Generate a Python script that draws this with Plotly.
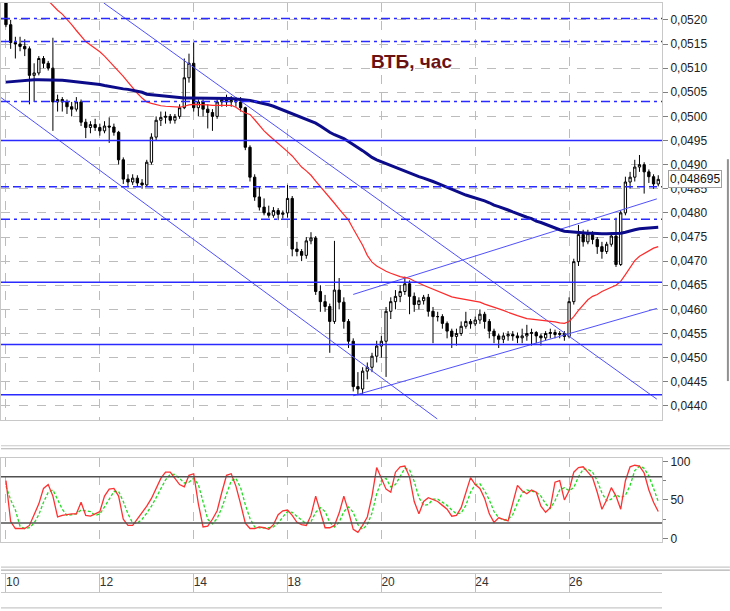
import plotly.graph_objects as go

# ---------------- data ----------------
day_labels = ['10', '12', '14', '18', '20', '24', '26']
day_pos = [0, 20, 40, 60, 80, 100, 120]

bar_index = list(range(140))

bar_open = [
    0.05240, 0.05190, 0.05153, 0.05150, 0.05145, 0.05140, 0.05085, 0.05090, 0.05120, 0.05110,
    0.05100, 0.05030, 0.05035, 0.05030, 0.05020, 0.05015, 0.05030, 0.04988, 0.04977, 0.04983,
    0.04977, 0.04970, 0.04980, 0.04978, 0.04967, 0.04910, 0.04870, 0.04864, 0.04872, 0.04862,
    0.04858, 0.04905, 0.04957, 0.04992, 0.04998, 0.05000, 0.04992, 0.05000, 0.05018, 0.05080,
    0.05110, 0.05018, 0.05030, 0.05015, 0.05008, 0.05000, 0.05030, 0.05035, 0.05030, 0.05033,
    0.05030, 0.05018, 0.04936, 0.04874, 0.04833, 0.04812, 0.04800, 0.04795, 0.04805, 0.04797,
    0.04800, 0.04830, 0.04725, 0.04720, 0.04712, 0.04742, 0.04748, 0.04637, 0.04616, 0.04606,
    0.04575, 0.04640, 0.04615, 0.04575, 0.04534, 0.04440, 0.04435, 0.04472, 0.04480, 0.04503,
    0.04524, 0.04534, 0.04596, 0.04616, 0.04627, 0.04637, 0.04653, 0.04627, 0.04610, 0.04618,
    0.04625, 0.04596, 0.04585, 0.04585, 0.04571, 0.04555, 0.04544, 0.04550, 0.04565, 0.04575,
    0.04570, 0.04578, 0.04590, 0.04575, 0.04555, 0.04545, 0.04538, 0.04545, 0.04548, 0.04545,
    0.04541, 0.04545, 0.04550, 0.04552, 0.04545, 0.04541, 0.04550, 0.04552, 0.04548, 0.04550,
    0.04544, 0.04616, 0.04699, 0.04755, 0.04740, 0.04757, 0.04745, 0.04730, 0.04720, 0.04735,
    0.04752, 0.04693, 0.04800, 0.04864, 0.04874, 0.04895, 0.04900, 0.04885, 0.04875, 0.04860,
]
bar_high = [
    0.05250, 0.05200, 0.05165, 0.05165, 0.05160, 0.05145, 0.05110, 0.05125, 0.05125, 0.05115,
    0.05163, 0.05045, 0.05040, 0.05035, 0.05030, 0.05040, 0.05035, 0.04995, 0.04990, 0.04995,
    0.04985, 0.04990, 0.04998, 0.04985, 0.04970, 0.04915, 0.04880, 0.04880, 0.04878, 0.04870,
    0.04910, 0.04965, 0.05000, 0.05010, 0.05010, 0.05005, 0.05005, 0.05025, 0.05120, 0.05130,
    0.05153, 0.05035, 0.05035, 0.05025, 0.05015, 0.05035, 0.05040, 0.05045, 0.05042, 0.05040,
    0.05040, 0.05020, 0.04940, 0.04880, 0.04855, 0.04830, 0.04815, 0.04812, 0.04810, 0.04805,
    0.04858, 0.04835, 0.04740, 0.04725, 0.04750, 0.04760, 0.04752, 0.04650, 0.04630, 0.04612,
    0.04742, 0.04665, 0.04625, 0.04580, 0.04540, 0.04470, 0.04480, 0.04490, 0.04510, 0.04535,
    0.04545, 0.04605, 0.04625, 0.04640, 0.04650, 0.04668, 0.04660, 0.04635, 0.04625, 0.04630,
    0.04632, 0.04605, 0.04595, 0.04590, 0.04575, 0.04560, 0.04560, 0.04575, 0.04595, 0.04580,
    0.04585, 0.04600, 0.04595, 0.04580, 0.04560, 0.04550, 0.04552, 0.04555, 0.04555, 0.04552,
    0.04560, 0.04568, 0.04560, 0.04555, 0.04550, 0.04555, 0.04560, 0.04558, 0.04555, 0.04555,
    0.04625, 0.04705, 0.04775, 0.04765, 0.04765, 0.04762, 0.04750, 0.04740, 0.04740, 0.04760,
    0.04790, 0.04805, 0.04875, 0.04885, 0.04910, 0.04920, 0.04905, 0.04890, 0.04880, 0.04878,
]
bar_low = [
    0.05185, 0.05140, 0.05120, 0.05135, 0.05125, 0.05025, 0.05030, 0.05085, 0.05100, 0.05095,
    0.04970, 0.05010, 0.05010, 0.05005, 0.05000, 0.05010, 0.04980, 0.04955, 0.04965, 0.04970,
    0.04960, 0.04965, 0.04945, 0.04960, 0.04900, 0.04860, 0.04855, 0.04858, 0.04855, 0.04850,
    0.04855, 0.04900, 0.04950, 0.04980, 0.04985, 0.04985, 0.04985, 0.04995, 0.05015, 0.05070,
    0.05010, 0.05000, 0.05000, 0.04975, 0.04970, 0.04995, 0.05020, 0.05020, 0.05020, 0.05020,
    0.05010, 0.04930, 0.04865, 0.04825, 0.04805, 0.04795, 0.04790, 0.04790, 0.04785, 0.04788,
    0.04790, 0.04710, 0.04710, 0.04700, 0.04705, 0.04735, 0.04630, 0.04595, 0.04595, 0.04510,
    0.04570, 0.04600, 0.04560, 0.04520, 0.04430, 0.04422, 0.04425, 0.04455, 0.04470, 0.04490,
    0.04500, 0.04460, 0.04580, 0.04600, 0.04615, 0.04630, 0.04590, 0.04595, 0.04600, 0.04610,
    0.04585, 0.04530, 0.04575, 0.04560, 0.04540, 0.04520, 0.04525, 0.04545, 0.04560, 0.04560,
    0.04565, 0.04570, 0.04560, 0.04540, 0.04530, 0.04520, 0.04530, 0.04535, 0.04535, 0.04530,
    0.04530, 0.04535, 0.04525, 0.04530, 0.04525, 0.04535, 0.04540, 0.04540, 0.04540, 0.04535,
    0.04540, 0.04610, 0.04690, 0.04730, 0.04735, 0.04735, 0.04715, 0.04705, 0.04715, 0.04730,
    0.04688, 0.04690, 0.04795, 0.04850, 0.04865, 0.04885, 0.04840, 0.04862, 0.04850, 0.04855,
]
bar_close = [
    0.05190, 0.05153, 0.05150, 0.05145, 0.05140, 0.05085, 0.05090, 0.05120, 0.05110, 0.05100,
    0.05030, 0.05035, 0.05030, 0.05020, 0.05015, 0.05030, 0.04988, 0.04977, 0.04983, 0.04977,
    0.04970, 0.04980, 0.04978, 0.04967, 0.04910, 0.04870, 0.04864, 0.04872, 0.04862, 0.04858,
    0.04905, 0.04957, 0.04992, 0.04998, 0.05000, 0.04992, 0.05000, 0.05018, 0.05080, 0.05110,
    0.05018, 0.05030, 0.05015, 0.05008, 0.05000, 0.05030, 0.05035, 0.05030, 0.05033, 0.05030,
    0.05018, 0.04936, 0.04874, 0.04833, 0.04812, 0.04800, 0.04795, 0.04805, 0.04797, 0.04800,
    0.04830, 0.04725, 0.04720, 0.04712, 0.04742, 0.04748, 0.04637, 0.04616, 0.04606, 0.04575,
    0.04640, 0.04615, 0.04575, 0.04534, 0.04440, 0.04435, 0.04472, 0.04480, 0.04503, 0.04524,
    0.04534, 0.04596, 0.04616, 0.04627, 0.04637, 0.04653, 0.04627, 0.04610, 0.04618, 0.04625,
    0.04596, 0.04585, 0.04585, 0.04571, 0.04555, 0.04544, 0.04550, 0.04565, 0.04575, 0.04570,
    0.04578, 0.04590, 0.04575, 0.04555, 0.04545, 0.04538, 0.04545, 0.04548, 0.04545, 0.04541,
    0.04545, 0.04550, 0.04552, 0.04545, 0.04541, 0.04550, 0.04552, 0.04548, 0.04550, 0.04544,
    0.04616, 0.04699, 0.04755, 0.04740, 0.04757, 0.04745, 0.04730, 0.04720, 0.04735, 0.04752,
    0.04693, 0.04800, 0.04864, 0.04874, 0.04895, 0.04900, 0.04885, 0.04875, 0.04860, 0.048695,
]

# fast moving average (red); starts above the visible range
ma_fast = [None] * 8 + [0.05250, 0.05240] + [
    0.05229, 0.05220, 0.05212, 0.05202, 0.05190, 0.05178, 0.05166, 0.05155, 0.05148, 0.05141,
    0.05134, 0.05125, 0.05115, 0.05105, 0.05095, 0.05083, 0.05071, 0.05059, 0.05048, 0.05038,
    0.05030, 0.05027, 0.05024, 0.05022, 0.05021, 0.05020, 0.05019, 0.05019, 0.05021, 0.05024,
    0.05025, 0.05025, 0.05024, 0.05024, 0.05023, 0.05023, 0.05023, 0.05023, 0.05023, 0.05019,
    0.05012, 0.05007, 0.05004, 0.04993, 0.04981, 0.04970, 0.04961, 0.04953, 0.04944, 0.04935,
    0.04927, 0.04918, 0.04906, 0.04895, 0.04887, 0.04878, 0.04866, 0.04855, 0.04843, 0.04832,
    0.04820, 0.04808, 0.04796, 0.04785, 0.04767, 0.04750, 0.04733, 0.04712, 0.04698, 0.04690,
    0.04684, 0.04679, 0.04675, 0.04671, 0.04668, 0.04666, 0.04664, 0.04659, 0.04654, 0.04650,
    0.04646, 0.04642, 0.04637, 0.04633, 0.04629, 0.04626, 0.04624, 0.04622, 0.04620, 0.04618,
    0.04616, 0.04615, 0.04611, 0.04608, 0.04604, 0.04601, 0.04598, 0.04594, 0.04590, 0.04587,
    0.04584, 0.04581, 0.04580, 0.04579, 0.04578, 0.04577, 0.04576, 0.04574, 0.04572, 0.04571,
    0.04575, 0.04585, 0.04598, 0.04610, 0.04620, 0.04627, 0.04631, 0.04637, 0.04642, 0.04646,
    0.04650, 0.04658, 0.04672, 0.04688, 0.04701, 0.04710, 0.04716, 0.04722, 0.04727, 0.04730,
]

# slow moving average (dark blue)
ma_slow = [
    0.05071, 0.05072, 0.05073, 0.05074, 0.05075, 0.05076, 0.05076, 0.05076, 0.05076, 0.05076,
    0.05076, 0.05075, 0.05075, 0.05074, 0.05073, 0.05072, 0.05070, 0.05069, 0.05068, 0.05067,
    0.05066, 0.05064, 0.05062, 0.05060, 0.05059, 0.05057, 0.05056, 0.05054, 0.05052, 0.05050,
    0.05046, 0.05045, 0.05043, 0.05042, 0.05041, 0.05040, 0.05039, 0.05039, 0.05038, 0.05038,
    0.05038, 0.05037, 0.05037, 0.05037, 0.05037, 0.05037, 0.05037, 0.05037, 0.05037, 0.05036,
    0.05035, 0.05035, 0.05033, 0.05031, 0.05029, 0.05027, 0.05024, 0.05021, 0.05017, 0.05014,
    0.05010, 0.05006, 0.05002, 0.04998, 0.04994, 0.04990, 0.04986, 0.04980, 0.04973, 0.04967,
    0.04962, 0.04958, 0.04954, 0.04948, 0.04942, 0.04936, 0.04929, 0.04922, 0.04915, 0.04910,
    0.04906, 0.04902, 0.04898, 0.04894, 0.04891, 0.04887, 0.04882, 0.04878, 0.04875, 0.04872,
    0.04869, 0.04865, 0.04861, 0.04857, 0.04853, 0.04848, 0.04844, 0.04840, 0.04837, 0.04834,
    0.04831, 0.04829, 0.04825, 0.04821, 0.04816, 0.04813, 0.04810, 0.04806, 0.04802, 0.04798,
    0.04794, 0.04791, 0.04788, 0.04783, 0.04780, 0.04776, 0.04772, 0.04768, 0.04765, 0.04762,
    0.04761, 0.04760, 0.04759, 0.04759, 0.04758, 0.04758, 0.04757, 0.04757, 0.04757, 0.04757,
    0.04757, 0.04758, 0.04760, 0.04763, 0.04765, 0.04767, 0.04768, 0.04769, 0.04769, 0.04770,
]

# stochastic oscillator
stoch_k = [
    75, 22, 13, 13, 13, 17, 30, 45, 65, 70,
    55, 28, 30, 31, 32, 32, 47, 30, 29, 32,
    35, 55, 64, 65, 55, 25, 17, 17, 25, 33,
    42, 52, 64, 78, 86, 86, 78, 70, 67, 82,
    84, 45, 15, 16, 25, 36, 60, 82, 84, 68,
    45, 20, 13, 13, 15, 14, 12, 18, 31, 36,
    37, 30, 21, 18, 17, 30, 55, 35, 14, 14,
    17, 33, 55, 35, 12, 8, 17, 28, 55, 92,
    78, 64, 60, 86, 93, 94, 80, 48, 32, 48,
    53, 51, 48, 43, 38, 29, 30, 40, 60, 79,
    70, 65, 52, 32, 21, 27, 25, 23, 46, 69,
    62, 58, 63, 60, 42, 34, 40, 73, 75, 50,
    62, 86, 92, 93, 86, 79, 60, 38, 50, 66,
    55, 38, 75, 93, 95, 94, 85, 63, 47, 35,
]
stoch_d = [
    68, 50, 37, 16, 13, 14, 20, 31, 47, 60,
    63, 51, 38, 30, 31, 32, 37, 36, 35, 30,
    32, 41, 51, 61, 61, 48, 32, 20, 20, 25,
    33, 42, 53, 65, 76, 83, 83, 78, 72, 73,
    78, 70, 48, 25, 19, 26, 40, 59, 75, 78,
    66, 44, 26, 15, 14, 14, 14, 15, 20, 28,
    35, 34, 29, 23, 19, 22, 34, 40, 35, 21,
    15, 21, 35, 41, 34, 18, 12, 18, 33, 58,
    75, 78, 67, 70, 80, 91, 89, 74, 53, 43,
    44, 51, 51, 47, 43, 37, 32, 33, 43, 60,
    70, 71, 62, 50, 35, 27, 24, 25, 31, 46,
    59, 63, 61, 60, 55, 45, 39, 49, 63, 66,
    62, 66, 80, 90, 90, 86, 75, 59, 49, 51,
    57, 53, 56, 69, 88, 94, 91, 81, 65, 48,
]
stoch_levels = [80, 20]

price_ticks = [0.0440, 0.0445, 0.0450, 0.0455, 0.0460, 0.0465, 0.0470, 0.0475, 0.0480,
               0.0485, 0.0490, 0.0495, 0.0500, 0.0505, 0.0510, 0.0515, 0.0520]
price_tick_labels = ['0,0440', '0,0445', '0,0450', '0,0455', '0,0460', '0,0465', '0,0470',
                     '0,0475', '0,0480', '0,0485', '0,0490', '0,0495', '0,0500', '0,0505',
                     '0,0510', '0,0515', '0,0520']

level_solid = [0.04950, 0.04656, 0.04527, 0.04423]
level_dashed = [0.04854]
level_dashdot = [0.05203, 0.05155, 0.05031, 0.04787]

# trend lines: start/end (bar index, price)
trend_x0 = [20.85, -1.06, 74.0, 74.0]
trend_y0 = [0.05235, 0.05039, 0.04631, 0.04421]
trend_x1 = [138.7, 91.9, 138.7, 138.7]
trend_y1 = [0.04414, 0.04373, 0.04829, 0.04602]

last_price = 0.048695
last_price_text = '0,048695'
title_text = 'ВТБ, час'

# ---------------- figure ----------------
XR = [-1.06, 139.8]
LEVEL_BLUE = '#2a2aff'
THIN_BLUE = '#5050ff'
GRID = '#bcbcbc'
FRAME = '#c8c8c8'

fig = go.Figure()

for x0, y0, x1, y1 in zip(trend_x0, trend_y0, trend_x1, trend_y1):
    fig.add_trace(go.Scatter(x=[x0, x1], y=[y0, y1], mode='lines',
                             line=dict(color=THIN_BLUE, width=1),
                             xaxis='x', yaxis='y', hoverinfo='skip', showlegend=False))

fig.add_trace(go.Candlestick(
    x=bar_index, open=bar_open, high=bar_high, low=bar_low, close=bar_close,
    increasing=dict(line=dict(color='black', width=1), fillcolor='white'),
    decreasing=dict(line=dict(color='black', width=1), fillcolor='black'),
    whiskerwidth=0, xaxis='x', yaxis='y', showlegend=False))

fig.add_trace(go.Scatter(x=bar_index, y=ma_fast, mode='lines',
                         line=dict(color='#ff2a2a', width=1.2),
                         xaxis='x', yaxis='y', showlegend=False))
fig.add_trace(go.Scatter(x=bar_index, y=ma_slow, mode='lines',
                         line=dict(color='#0c0c8a', width=3),
                         xaxis='x', yaxis='y', showlegend=False))

fig.add_trace(go.Scatter(x=bar_index, y=stoch_d, mode='lines',
                         line=dict(color='#22dd22', width=1.3, dash='3px,2px'),
                         xaxis='x2', yaxis='y2', showlegend=False))
fig.add_trace(go.Scatter(x=bar_index, y=stoch_k, mode='lines',
                         line=dict(color='#ff3030', width=1.3),
                         xaxis='x2', yaxis='y2', showlegend=False))

# date labels in the bottom strip
fig.add_trace(go.Scatter(x=day_pos, y=[0.5] * len(day_pos), mode='text', text=day_labels,
                         textposition='middle right',
                         textfont=dict(family='Liberation Sans', size=12, color='#333'),
                         xaxis='x3', yaxis='y3', hoverinfo='skip', showlegend=False,
                         cliponaxis=False))

for lv in level_solid:
    fig.add_shape(type='line', xref='x domain', x0=0, x1=1, yref='y', y0=lv, y1=lv,
                  line=dict(color=LEVEL_BLUE, width=1.5))
for lv in level_dashed:
    fig.add_shape(type='line', xref='x domain', x0=0, x1=1, yref='y', y0=lv, y1=lv,
                  line=dict(color=LEVEL_BLUE, width=1.5, dash='8px,4px'))
for lv in level_dashdot:
    fig.add_shape(type='line', xref='x domain', x0=0, x1=1, yref='y', y0=lv, y1=lv,
                  line=dict(color=LEVEL_BLUE, width=1.5, dash='9px,4px,3px,4px'))
for lv in stoch_levels:
    fig.add_shape(type='line', xref='x2 domain', x0=0, x1=1, yref='y2', y0=lv, y1=lv,
                  line=dict(color='#505050', width=1.5))

# panel separators (paper coords; plot area height = 592 px)
def py(Y):
    return (592 - Y) / 592.0

for Y, c in [(445, '#c8c8c8'), (448, '#b0b0b0'), (567, '#c8c8c8'), (570, '#b0b0b0')]:
    fig.add_shape(type='line', xref='paper', yref='paper', x0=0, x1=730 / 662.0,
                  y0=py(Y), y1=py(Y), line=dict(color=c, width=1.2))
fig.add_shape(type='line', xref='paper', yref='paper', x0=0, x1=1, y0=py(608), y1=py(608),
              line=dict(color='#c8c8c8', width=1.2))
fig.add_shape(type='line', xref='paper', yref='paper', x0=728 / 662.0, x1=728 / 662.0,
              y0=py(157), y1=py(380), line=dict(color='#909090', width=2))

fig.add_annotation(text='<b>' + title_text + '</b>', xref='paper', yref='paper',
                   x=411.5 / 662.0, y=py(59),
                   showarrow=False, font=dict(family='Liberation Sans', size=19, color='#6a1212'),
                   xanchor='center', yanchor='middle')
fig.add_annotation(text=last_price_text, xref='paper', yref='y', x=1, y=last_price,
                   xanchor='left', yanchor='middle', xshift=6, showarrow=False,
                   bgcolor='white', bordercolor='#a0a0a0', borderwidth=1, borderpad=1,
                   font=dict(family='Liberation Sans', size=12, color='#111'))

common_x = dict(range=XR, tickmode='array', tickvals=day_pos, zeroline=False,
                showline=True, mirror=True, linecolor=FRAME, fixedrange=True)

fig.update_layout(
    width=730, height=611,
    margin=dict(l=0, r=68, t=0, b=19),
    paper_bgcolor='white', plot_bgcolor='white', showlegend=False,
    font=dict(family='Liberation Sans', size=12, color='#222'),
    xaxis=dict(domain=[0, 1], anchor='y', showticklabels=False, ticks='',
               showgrid=True, gridcolor=GRID, griddash='dash', gridwidth=1,
               rangeslider=dict(visible=False), **common_x),
    yaxis=dict(domain=[py(419), 1], range=[0.04371, 0.05235], side='right', anchor='x',
               tickmode='array', tickvals=price_ticks, ticktext=price_tick_labels,
               ticks='outside', ticklen=5, tickcolor='#808080',
               showgrid=True, gridcolor=GRID, griddash='dash', gridwidth=1,
               zeroline=False, showline=True, mirror=True, linecolor=FRAME, fixedrange=True),
    xaxis2=dict(domain=[0, 1], anchor='y2', showticklabels=False, ticks='',
                showgrid=True, gridcolor=GRID, griddash='dash', gridwidth=1, **common_x),
    yaxis2=dict(domain=[py(542), py(457)], range=[-4.8, 104.8], side='right', anchor='x2',
                tickmode='array', tickvals=[0, 50, 100], ticks='outside', ticklen=5,
                tickcolor='#808080', showgrid=False, zeroline=False, showline=True,
                mirror=True, linecolor=FRAME, fixedrange=True,
                minor=dict(tickvals=[25, 75], ticks='outside', ticklen=3, tickcolor='#808080')),
    xaxis3=dict(domain=[0, 1], anchor='y3', showticklabels=False, ticks='',
                showgrid=True, gridcolor='#c0c0c0', gridwidth=1, griddash='solid', **common_x),
    yaxis3=dict(domain=[0, py(574)], range=[0, 1], showticklabels=False, ticks='',
                showgrid=False, zeroline=False, showline=False, fixedrange=True),
)

fig.write_html('out.html',
               config={'displayModeBar': False},
               post_script="document.body.style.margin='0px';"
                           "document.body.style.overflow='hidden';"
                           "document.documentElement.style.overflow='hidden';")
